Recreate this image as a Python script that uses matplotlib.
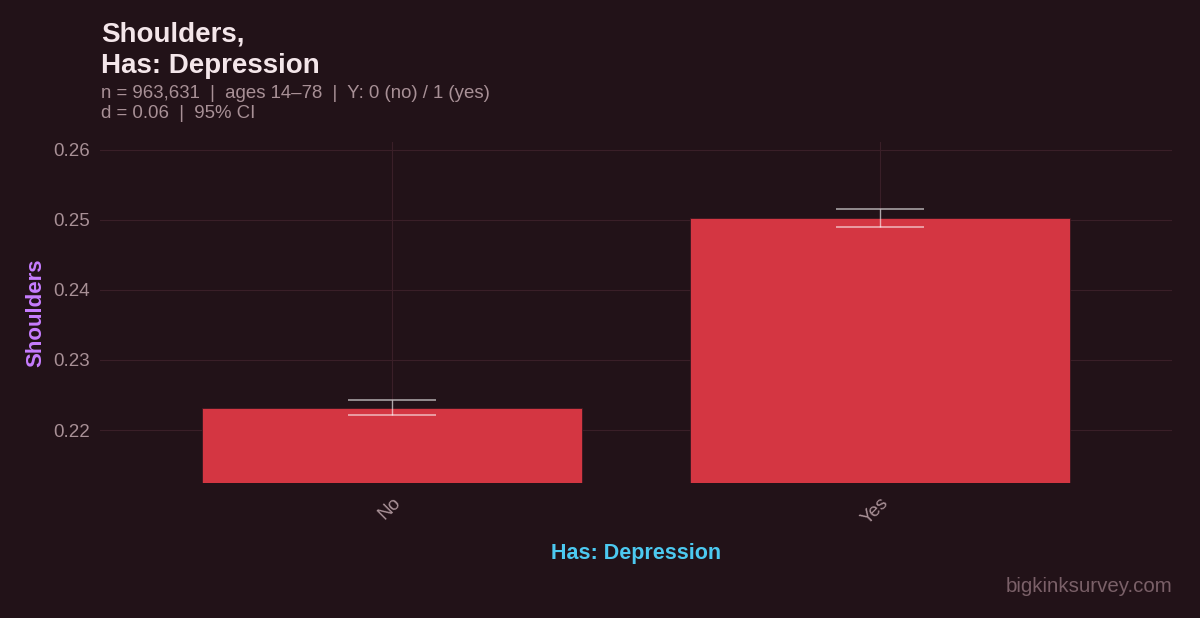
import matplotlib
matplotlib.use("Agg")
import matplotlib.pyplot as plt

categories = ["No", "Yes"]
means = [0.22314, 0.25029]
ci_low = [0.22214, 0.24900]
ci_high = [0.22429, 0.25157]
yticks = [0.22, 0.23, 0.24, 0.25, 0.26]

BG = "#221218"
GRID = "#3a1f28"
BAR = "#d43642"
TXT = "#a89096"

plt.rcParams['font.family'] = ['Liberation Sans', 'DejaVu Sans']

fig = plt.figure(figsize=(12, 6.18), dpi=100, facecolor=BG)
ax = fig.add_axes([100/1200, 1-483/618, 1072/1200, 341/618])
ax.set_facecolor(BG)

x = list(range(len(categories)))
base = 0.21243
ax.bar(x, [m - base for m in means], bottom=base, width=0.78, color=BAR,
       edgecolor="#3a1820", linewidth=0.6, zorder=2)
yerr = [[m - l for m, l in zip(means, ci_low)], [h - m for m, h in zip(means, ci_high)]]
ax.errorbar(x, means, yerr=yerr, fmt="none", ecolor="#ffffff", alpha=0.6,
            elinewidth=1.0, capsize=31.7, capthick=1.2, zorder=3)

ax.set_xlim(-0.6, 1.6)
ax.set_ylim(base, 0.26114)
ax.set_yticks(yticks)
ax.set_yticklabels([f"{t:.2f}" for t in yticks])
ax.set_xticks(x)
ax.set_xticklabels(categories, rotation=45, ha="right", rotation_mode="anchor")
ax.grid(True, color=GRID, linewidth=0.8, zorder=0)
ax.set_axisbelow(True)
for s in ax.spines.values():
    s.set_visible(False)
ax.tick_params(axis="both", length=0, colors=TXT, labelsize=13.5)
ax.tick_params(axis="y", pad=7)
ax.tick_params(axis="x", pad=8)
for lbl in ax.get_xticklabels():
    lbl.set_color(TXT)

ax.set_ylabel("Shoulders", color="#c77dff", fontsize=16, fontweight="bold", labelpad=5)
ax.set_xlabel("Has: Depression", color="#4cc9f0", fontsize=15.5, fontweight="bold", labelpad=11)

fig.text(101/1200, 1-21/618, "Shoulders,\nHas: Depression", color="#f4e6ea",
         fontsize=20, fontweight="bold", va="top", ha="left", linespacing=1.3)
fig.text(101/1200, 1-85/618, "n = 963,631  |  ages 14\u201378  |  Y: 0 (no) / 1 (yes)\nd = 0.06  |  95% CI",
         color=TXT, fontsize=13.4, va="top", ha="left", linespacing=1.2)
fig.text(1172/1200, 1-587/618, "bigkinksurvey.com", color="#7a6068", fontsize=14.8,
         ha="right", va="center")

fig.savefig("out.png", dpi=100, facecolor=BG)
